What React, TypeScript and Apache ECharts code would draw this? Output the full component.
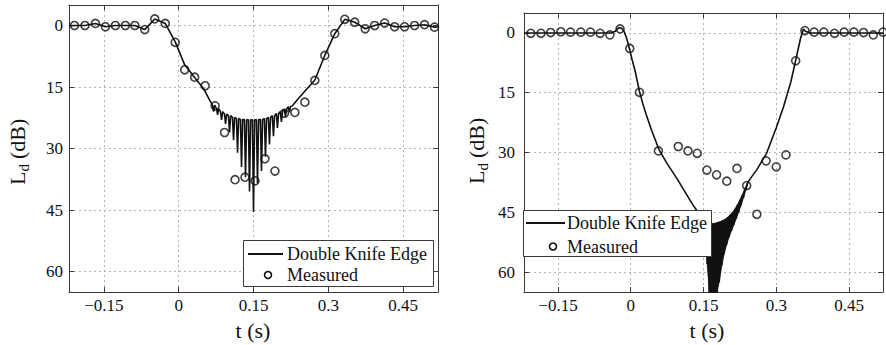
import React, { useEffect, useRef } from 'react';
import * as echarts from 'echarts';

type Pt = [number, number];

// Axis layout shared by both panels
const T_TICKS = [-0.15, 0, 0.15, 0.3, 0.45];
const L_TICKS = [0, 15, 30, 45, 60];
const T_MIN = -0.22;
const T_MAX = 0.52;
const L_MIN = -5;
const L_MAX = 65;

// ---- Left panel ----
const LEFT_MEASURED: Pt[] = [
  [-0.209, 0], [-0.188, 0], [-0.167, -0.5], [-0.147, 0.3], [-0.127, 0], [-0.107, 0],
  [-0.088, 0], [-0.068, 1.0], [-0.048, -1.6], [-0.027, -0.5], [-0.007, 4.1], [0.012, 10.8],
  [0.032, 12.6], [0.053, 14.7], [0.073, 19.6], [0.092, 26.1], [0.113, 37.6], [0.133, 37.0],
  [0.153, 37.9], [0.173, 32.5], [0.193, 35.5], [0.212, 21.4], [0.233, 21.2], [0.253, 18.7],
  [0.273, 13.4], [0.293, 7.3], [0.313, 2.0], [0.333, -1.5], [0.353, -0.8], [0.374, 0.8],
  [0.393, 0], [0.413, -0.6], [0.433, 0.3], [0.453, 0.3], [0.473, 0], [0.493, -0.2], [0.513, 0.4],
];

const LEFT_MODEL_HEAD: Pt[] = [
  [-0.22, 0.1], [-0.209, 0], [-0.188, 0], [-0.167, -0.5], [-0.147, 0.3], [-0.127, 0],
  [-0.107, 0], [-0.088, 0], [-0.068, 1.0], [-0.048, -1.6], [-0.027, -0.5], [-0.007, 4.0],
  [0.012, 9.6], [0.032, 12.7], [0.05, 15.4], [0.062, 18.2],
];
// Interference spikes of the double knife-edge model
const LEFT_SPIKE_T = [
  0.07, 0.078, 0.086, 0.094, 0.102, 0.11, 0.118, 0.126, 0.134, 0.142,
  0.15, 0.158, 0.166, 0.174, 0.182, 0.19, 0.198, 0.206, 0.214, 0.222,
];
const LEFT_SPIKE_TOP = [
  19.4, 20.3, 21.0, 21.6, 22.0, 22.4, 22.7, 22.9, 23.0, 23.0,
  23.0, 23.0, 22.9, 22.7, 22.4, 22.0, 21.5, 21.0, 20.4, 19.8,
];
const LEFT_SPIKE_BOTTOM = [
  21.0, 21.8, 23.0, 24.0, 26.0, 28.0, 31.0, 34.5, 37.0, 40.5,
  45.5, 38.5, 35.5, 32.0, 29.0, 27.0, 25.0, 23.5, 22.2, 21.2,
];
const LEFT_MODEL_TAIL: Pt[] = [
  [0.228, 19.6], [0.24, 17.8], [0.256, 15.6], [0.273, 13.3], [0.293, 7.3], [0.313, 2.0],
  [0.333, -1.5], [0.353, -0.8], [0.374, 0.8], [0.393, 0], [0.413, -0.6], [0.433, 0.3],
  [0.453, 0.3], [0.473, 0], [0.493, -0.2], [0.513, 0.4], [0.52, 0.3],
];

// ---- Right panel ----
const RIGHT_MEASURED: Pt[] = [
  [-0.206, 0.1], [-0.185, 0.1], [-0.165, -0.1], [-0.144, -0.3], [-0.124, -0.2], [-0.103, -0.2],
  [-0.083, -0.2], [-0.063, 0.1], [-0.043, 0.5], [-0.022, -1.0], [-0.002, 3.9], [0.018, 14.9],
  [0.057, 29.6], [0.098, 28.5], [0.118, 29.6], [0.137, 30.2], [0.157, 34.4], [0.177, 35.6],
  [0.198, 37.2], [0.219, 34.0], [0.239, 38.3], [0.26, 45.5], [0.279, 32.1], [0.3, 33.6],
  [0.32, 30.6], [0.34, 7.0], [0.359, -0.6], [0.378, -0.2], [0.398, -0.2], [0.42, 0.1],
  [0.44, -0.2], [0.46, -0.2], [0.48, -0.1], [0.5, 0.5], [0.52, -0.2],
];

const RIGHT_MODEL_HEAD: Pt[] = [
  [-0.22, 0], [-0.04, 0], [-0.032, -0.4], [-0.025, -1.3], [-0.019, -1.2], [-0.013, -0.2],
  [-0.008, 1.5], [-0.003, 3.8], [0.003, 6.8], [0.009, 9.5], [0.018, 14.7], [0.025, 17.8],
  [0.032, 20.5], [0.043, 24.4], [0.058, 29.2], [0.075, 32.8], [0.095, 36.5], [0.11, 39.5],
  [0.12, 41.5], [0.13, 43.5], [0.14, 45.2], [0.15, 46.3],
];
// Dense oscillation around the deep shadow: upper and lower envelopes
const RIGHT_OSC_T = [
  0.155, 0.16, 0.165, 0.17, 0.175, 0.18, 0.185, 0.19, 0.195,
  0.2, 0.205, 0.21, 0.215, 0.22, 0.225, 0.23, 0.235, 0.24,
];
const RIGHT_OSC_TOP = [
  46.8, 47.5, 47.8, 47.8, 47.7, 47.5, 47.3, 47.0, 46.7,
  46.2, 45.6, 45.0, 44.1, 43.1, 41.9, 40.6, 39.2, 37.8,
];
const RIGHT_OSC_BOTTOM = [
  58.0, 75.0, 75.0, 75.0, 75.0, 62.5, 58.5, 55.5, 53.2,
  51.3, 49.7, 48.2, 46.6, 45.0, 43.2, 41.3, 39.3, 37.4,
];
const RIGHT_MODEL_TAIL: Pt[] = [
  [0.245, 36.8], [0.26, 34.3], [0.28, 30.2], [0.3, 23.8], [0.315, 18.5], [0.33, 12.3],
  [0.34, 6.9], [0.35, 1.4], [0.356, -1.0], [0.36, -0.4], [0.37, 0], [0.52, 0],
];
const OSC_HALF_STEP = 0.0025;

// ---- Styling ----
const FONT = 'Liberation Serif, Times New Roman, serif';
const INK = '#111111';
const FRAME = '#3a3a3a';
const GRID_LINE = '#b4b4b4';

const PANELS = [
  { left: 69, top: 5, width: 369, height: 287, yLabelMargin: 6 },
  { left: 524, top: 13, width: 359, height: 279, yLabelMargin: 9 },
];

function spikeTrace(ts: number[], tops: number[], bottoms: number[], hw: number): Pt[] {
  const out: Pt[] = [];
  ts.forEach((t, i) => {
    out.push([t - hw, tops[i]], [t, bottoms[i]], [t + hw, tops[i]]);
  });
  return out;
}

function denseTrace(ts: number[], tops: number[], bottoms: number[], step: number): Pt[] {
  const out: Pt[] = [];
  ts.forEach((t, i) => {
    out.push([t, tops[i]], [t + step, bottoms[i]]);
  });
  return out;
}

const leftModel: Pt[] = [
  ...LEFT_MODEL_HEAD,
  ...spikeTrace(LEFT_SPIKE_T, LEFT_SPIKE_TOP, LEFT_SPIKE_BOTTOM, 0.0022),
  ...LEFT_MODEL_TAIL,
];
const rightModel: Pt[] = [
  ...RIGHT_MODEL_HEAD,
  ...denseTrace(RIGHT_OSC_T, RIGHT_OSC_TOP, RIGHT_OSC_BOTTOM, OSC_HALF_STEP),
  ...RIGHT_MODEL_TAIL,
];

const tLabel = (v: number) => '{n|' + (v < 0 ? '\u2212' + String(-v) : String(v)) + '}';
const lLabel = (v: number) => '{n|' + String(v) + '}';

const labelRich = {
  n: { fontFamily: FONT, fontSize: 17, color: INK, fontWeight: 'normal' as const },
};

function xAxesFor(gridIndex: number) {
  const common = {
    type: 'value' as const,
    gridIndex,
    min: T_MIN,
    max: T_MAX,
    axisLine: { show: true, onZero: false, lineStyle: { color: FRAME, width: 1 } },
    axisTick: { show: true, inside: true, length: 5, customValues: T_TICKS, lineStyle: { color: FRAME } },
  };
  return [
    {
      ...common,
      position: 'bottom',
      axisLabel: {
        show: true,
        customValues: T_TICKS,
        formatter: tLabel,
        margin: 5,
        fontFamily: FONT,
        fontSize: 17,
        color: INK,
        rich: labelRich,
      },
      splitLine: { show: true, lineStyle: { color: GRID_LINE, type: [2, 3], width: 1 } },
    },
    {
      ...common,
      position: 'top',
      axisLabel: { show: false },
      splitLine: { show: false },
    },
  ];
}

function yAxesFor(gridIndex: number, margin: number) {
  const common = {
    type: 'value' as const,
    gridIndex,
    min: L_MIN,
    max: L_MAX,
    inverse: true,
    axisLine: { show: true, onZero: false, lineStyle: { color: FRAME, width: 1 } },
    axisTick: { show: true, inside: true, length: 5, customValues: L_TICKS, lineStyle: { color: FRAME } },
  };
  return [
    {
      ...common,
      position: 'left',
      axisLabel: {
        show: true,
        customValues: L_TICKS,
        formatter: lLabel,
        margin,
        fontFamily: FONT,
        fontSize: 17,
        color: INK,
        rich: labelRich,
      },
      splitLine: { show: true, lineStyle: { color: GRID_LINE, type: [2, 3], width: 1 } },
    },
    {
      ...common,
      position: 'right',
      axisLabel: { show: false },
      splitLine: { show: false },
    },
  ];
}

function txt(x: number, y: number, text: string, size: number, align = 'left', vAlign = 'middle') {
  return {
    type: 'text',
    x,
    y,
    z: 100,
    style: {
      text,
      fontSize: size,
      fontFamily: FONT,
      fill: INK,
      align,
      verticalAlign: vAlign,
      textAlign: align,
      textVerticalAlign: vAlign,
    },
  };
}

function legendBox(x: number, y: number, w: number, h: number, lineX1: number, lineX2: number, row1: number, row2: number, textX: number, dotX: number) {
  return [
    {
      type: 'rect',
      z: 90,
      shape: { x, y, width: w, height: h },
      style: { fill: '#ffffff', stroke: FRAME, lineWidth: 1 },
    },
    {
      type: 'line',
      z: 100,
      shape: { x1: lineX1, y1: row1, x2: lineX2, y2: row1 },
      style: { stroke: INK, lineWidth: 1.8 },
    },
    txt(textX, row1, 'Double Knife Edge', 18),
    {
      type: 'circle',
      z: 100,
      shape: { cx: dotX, cy: row2, r: 3.5 },
      style: { fill: 'none', stroke: INK, lineWidth: 1.6 },
    },
    txt(textX, row2, 'Measured', 18),
  ];
}

function yTitle(x: number, y: number) {
  return {
    type: 'group',
    x,
    y,
    rotation: Math.PI / 2,
    z: 100,
    children: [
      txt(0, 0, 'L', 22),
      txt(13.5, 6.5, 'd', 15),
      txt(26, 0, '(dB)', 22),
    ],
  };
}

// Solid band between the oscillation envelopes, clipped to the plot area
function renderOscBand(params: any, api: any) {
  const pts: number[][] = [];
  RIGHT_OSC_T.forEach((t, i) => pts.push(api.coord([t, RIGHT_OSC_TOP[i]])));
  for (let i = RIGHT_OSC_T.length - 1; i >= 0; i--) {
    pts.push(api.coord([RIGHT_OSC_T[i] + OSC_HALF_STEP, RIGHT_OSC_BOTTOM[i]]));
  }
  const cs = params.coordSys;
  const clipped = echarts.graphic.clipPointsByRect(pts, {
    x: cs.x,
    y: cs.y,
    width: cs.width,
    height: cs.height,
  } as any);
  return {
    type: 'polygon',
    shape: { points: clipped },
    style: { fill: INK, stroke: INK, lineWidth: 0.8 },
  };
}

export default function App() {
  const ref = useRef<HTMLDivElement>(null);

  useEffect(() => {
    if (!ref.current) return;
    const chart = echarts.init(ref.current, undefined, { renderer: 'svg' });

    const lineStyle = { color: INK, width: 1.6 };
    const markerStyle = { color: 'rgba(0,0,0,0)', borderColor: INK, borderWidth: 1.6 };

    chart.setOption({
      animation: false,
      backgroundColor: '#ffffff',
      textStyle: { fontFamily: FONT, color: INK },
      grid: PANELS.map((p) => ({ left: p.left, top: p.top, width: p.width, height: p.height, containLabel: false })),
      xAxis: [...xAxesFor(0), ...xAxesFor(1)],
      yAxis: [...yAxesFor(0, PANELS[0].yLabelMargin), ...yAxesFor(1, PANELS[1].yLabelMargin)],
      series: [
        {
          type: 'line',
          name: 'Double Knife Edge',
          xAxisIndex: 0,
          yAxisIndex: 0,
          data: leftModel,
          symbol: 'none',
          showSymbol: false,
          clip: true,
          lineStyle,
          silent: true,
          z: 2,
        },
        {
          type: 'scatter',
          name: 'Measured',
          xAxisIndex: 0,
          yAxisIndex: 0,
          data: LEFT_MEASURED,
          symbol: 'circle',
          symbolSize: 8,
          itemStyle: markerStyle,
          silent: true,
          z: 3,
        },
        {
          type: 'line',
          name: 'Double Knife Edge',
          xAxisIndex: 2,
          yAxisIndex: 2,
          data: rightModel,
          symbol: 'none',
          showSymbol: false,
          clip: true,
          lineStyle,
          silent: true,
          z: 2,
        },
        {
          type: 'custom',
          name: 'Double Knife Edge band',
          xAxisIndex: 2,
          yAxisIndex: 2,
          data: [[RIGHT_OSC_T[0], RIGHT_OSC_TOP[0]]],
          renderItem: renderOscBand,
          silent: true,
          z: 2,
        },
        {
          type: 'scatter',
          name: 'Measured',
          xAxisIndex: 2,
          yAxisIndex: 2,
          data: RIGHT_MEASURED,
          symbol: 'circle',
          symbolSize: 8,
          itemStyle: markerStyle,
          silent: true,
          z: 3,
        },
      ],
      graphic: [
        ...legendBox(243.5, 240.5, 190, 46, 248, 283, 254, 275, 287, 268),
        ...legendBox(523.5, 210.5, 188, 46, 526, 565, 223, 246.5, 567, 553),
        yTitle(17, 185),
        yTitle(476, 184),
        txt(253, 330, 't (s)', 22, 'center'),
        txt(707, 330, 't (s)', 22, 'center'),
      ],
    });

    return () => chart.dispose();
  }, []);

  return (
    <div
      ref={ref}
      style={{ position: 'fixed', left: 0, top: 0, width: 886, height: 345, background: '#fff' }}
    />
  );
}
